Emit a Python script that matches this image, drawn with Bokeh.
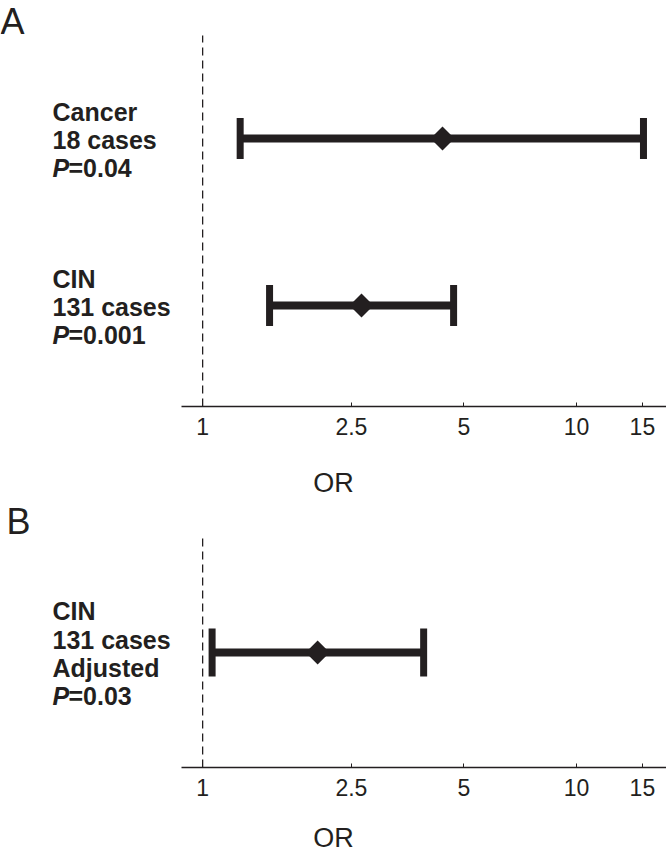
import math
from bokeh.plotting import figure
from bokeh.models import Range1d, FixedTicker
from bokeh.layouts import column
from bokeh.embed import file_html
from bokeh.resources import INLINE
from bokeh.core.properties import value

# ---------------- data ----------------
# Panel A
a_rows = [2, 1]
a_or = [4.38, 2.66]
a_lo = [1.26, 1.51]
a_hi = [15.1, 4.69]
a_lines = [["Cancer", "18 cases"], ["CIN", "131 cases"]]
a_pvals = ["=0.04", "=0.001"]

# Panel B
b_rows = [1]
b_or = [2.03]
b_lo = [1.06]
b_hi = [3.90]
b_lines = [["CIN", "131 cases", "Adjusted"]]
b_pvals = ["=0.03"]

ref_or = 1
ticks = [1, 2.5, 5, 10, 15]
tick_labels = ["1", "2.5", "5", "10", "15"]

# ---------------- style / layout ----------------
INK = "#231f20"
FONT = "Liberation Sans"
W = 666
XLO, XHI = 0.288, 17.4
AXIS_LO, AXIS_HI = 0.879, 17.4
PX_ROW = 167.0


def x_at(px):
    a, b = math.log10(XLO), math.log10(XHI)
    return 10 ** (a + px / W * (b - a))


def make_panel(letter, rows, ors, los, his, lines, pvals, frame_h, y_lo,
               letter_x, dash_top, cap_h, label_standoff, offsets):
    y_hi = y_lo + frame_h / PX_ROW
    p = figure(width=W, frame_width=W, frame_height=frame_h,
               x_axis_type="log", x_range=Range1d(XLO, XHI),
               y_range=Range1d(y_lo, y_hi), y_axis_location=None,
               output_backend="svg", toolbar_location=None,
               min_border=0, min_border_left=0, min_border_right=0,
               min_border_top=0, min_border_bottom=0)
    p.outline_line_color = None
    p.grid.visible = False

    # reference line at OR = 1
    p.segment(x0=[ref_or], y0=[y_lo], x1=[ref_or], y1=[dash_top],
              line_color=INK, line_width=1.3, line_dash="8 5")

    # CI lines
    p.segment(x0=los, y0=rows, x1=his, y1=rows, line_color=INK,
              line_width=8, line_cap="butt")
    p.rect(x=los + his, y=rows + rows, width=7, height=cap_h,
           width_units="screen", height_units="screen",
           fill_color=INK, line_color=None)
    p.scatter(x=ors, y=rows, marker="square", size=17, angle=math.pi / 4,
              fill_color=INK, line_color=None)

    # row labels
    tx, ty, tt, toff = [], [], [], []
    px_, py_, pt_, poff = [], [], [], []
    lx = x_at(52)
    for r, ls, pv in zip(rows, lines, pvals):
        for i, s in enumerate(ls):
            tx.append(lx); ty.append(r); tt.append(s); toff.append(offsets[i])
        px_.append(lx); py_.append(r); pt_.append(pv); poff.append(offsets[len(ls)])
    p.text(x=tx, y=ty, text=tt, y_offset=toff, text_font=value(FONT),
           text_font_style="bold", text_font_size="25px", text_color=INK,
           text_baseline="alphabetic", text_align="left")
    p.text(x=px_, y=py_, text=["P"] * len(px_), y_offset=poff,
           text_font=value(FONT), text_font_style="bold italic",
           text_font_size="25px", text_color=INK,
           text_baseline="alphabetic", text_align="left")
    p.text(x=px_, y=py_, text=pt_, y_offset=poff, x_offset=16,
           text_font=value(FONT), text_font_style="bold",
           text_font_size="25px", text_color=INK,
           text_baseline="alphabetic", text_align="left")

    # panel letter, anchored at the top of the frame
    p.text(x=[x_at(letter_x)], y=[y_hi], text=[letter], text_font=value(FONT),
           text_font_size="36px", text_color=INK, text_line_height=1.0,
           text_baseline="top", text_align="left")

    ax = p.xaxis[0]
    ax.bounds = (AXIS_LO, AXIS_HI)
    ax.ticker = FixedTicker(ticks=ticks, minor_ticks=[])
    ax.major_label_overrides = {t: l for t, l in zip(ticks, tick_labels)}
    ax.axis_line_color = INK
    ax.axis_line_width = 1.3
    ax.major_tick_line_color = INK
    ax.major_tick_in = 4
    ax.major_tick_out = 0
    ax.minor_tick_line_color = None
    ax.major_label_standoff = 11
    ax.major_label_text_font = FONT
    ax.major_label_text_font_size = "23px"
    ax.major_label_text_color = INK
    ax.axis_label = "OR"
    ax.axis_label_text_font = FONT
    ax.axis_label_text_font_size = "27px"
    ax.axis_label_text_font_style = "normal"
    ax.axis_label_text_color = INK
    ax.axis_label_standoff = label_standoff
    return p


# Panel A: frame page 0..406, rows at page 138 / 305
a_ylo = 1 - (406 - 305) / PX_ROW
pA = make_panel("A", a_rows, a_or, a_lo, a_hi, a_lines, a_pvals,
                frame_h=406, y_lo=a_ylo, letter_x=0,
                dash_top=2 + (138 - 35) / PX_ROW,
                cap_h=41, label_standoff=30, offsets=[-27, 1, 29])

# Panel B: axis at page 767, row at page 652
b_ylo = 1 - (767 - 652) / PX_ROW
pB = make_panel("B", b_rows, b_or, b_lo, b_hi, b_lines, b_pvals,
                frame_h=267, y_lo=b_ylo, letter_x=6,
                dash_top=1 + (652 - 538) / PX_ROW,
                cap_h=48, label_standoff=24, offsets=[-42, -13, 15, 43])

layout = column(pA, pB, spacing=0)
open("out.html", "w").write(file_html(layout, INLINE))
